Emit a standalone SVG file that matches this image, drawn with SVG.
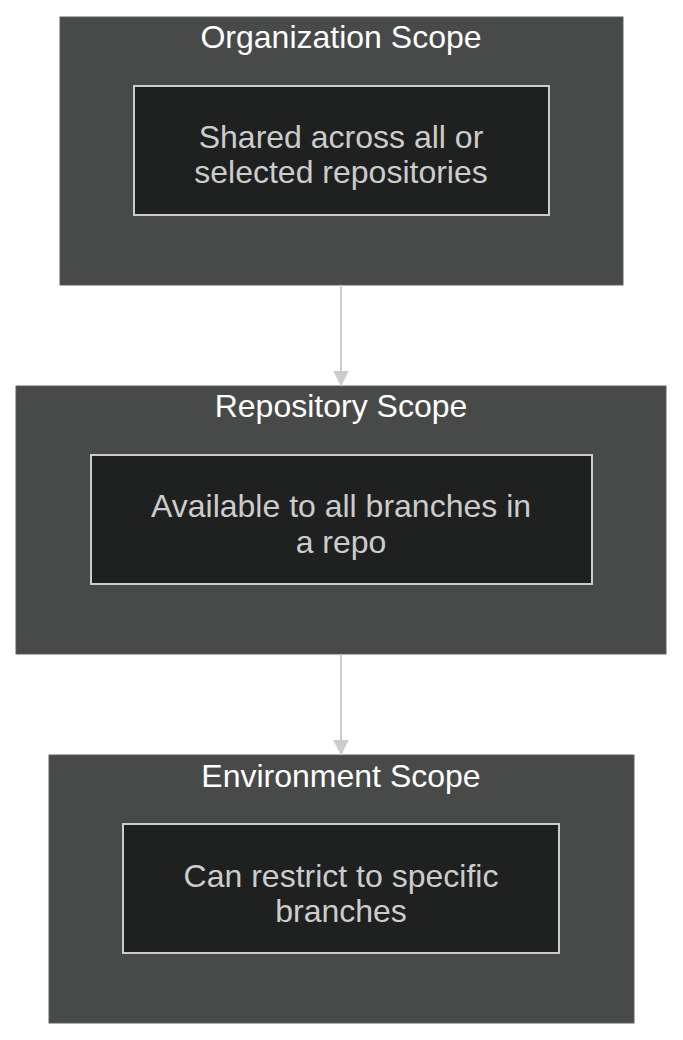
<svg xmlns="http://www.w3.org/2000/svg" width="683" height="1040" viewBox="0 0 683 1040">
<style>
.c{fill:#484a49;stroke:#5a5c5b;stroke-width:1}
.n{fill:#1f2020;stroke:#cccccc;stroke-width:2}
.t{font-family:"Liberation Sans",Arial,sans-serif;font-size:32px;fill:#ffffff;text-anchor:middle}
.l{font-family:"Liberation Sans",Arial,sans-serif;font-size:32px;fill:#cccccc;text-anchor:middle}
.e{stroke:#cccccc;stroke-width:2;fill:none}
</style>
<defs><marker id="a" viewBox="0 0 10 10" refX="9" refY="5" markerWidth="16" markerHeight="16" orient="auto" markerUnits="userSpaceOnUse"><path d="M0,0L10,5L0,10z" fill="#cccccc"/></marker></defs>
<rect width="683" height="1040" fill="#ffffff"/>
<g id="org"><rect class="c" x="60" y="17" width="563" height="268"/><text class="t" x="341" y="48">Organization Scope</text>
<rect class="n" x="134" y="86" width="415" height="129"/><text class="l" x="341" y="148">Shared across all or</text><text class="l" x="341" y="183">selected repositories</text></g>
<g id="repo"><rect class="c" x="16" y="386" width="650" height="268"/><text class="t" x="341" y="417">Repository Scope</text>
<rect class="n" x="91" y="455" width="501" height="129"/><text class="l" x="341" y="517">Available to all branches in</text><text class="l" x="341" y="553">a repo</text></g>
<g id="env"><rect class="c" x="49" y="755" width="585" height="268"/><text class="t" x="341" y="787">Environment Scope</text>
<rect class="n" x="123" y="824" width="436" height="129"/><text class="l" x="341" y="887">Can restrict to specific</text><text class="l" x="341" y="922">branches</text></g>
<g id="edges"><path class="e" d="M341,285V385" marker-end="url(#a)"/><path class="e" d="M341,654V754" marker-end="url(#a)"/></g>
</svg>
